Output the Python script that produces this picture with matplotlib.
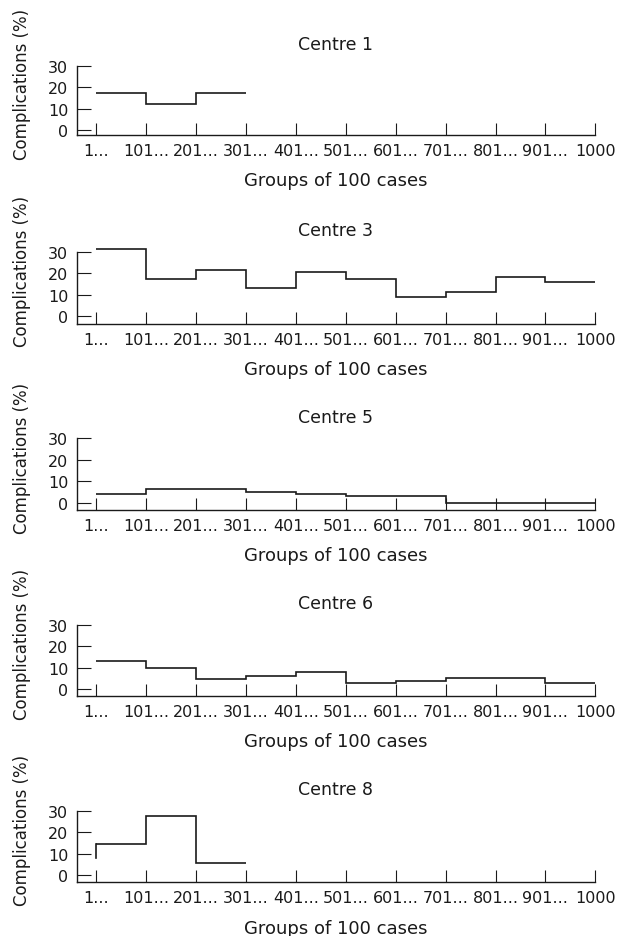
import matplotlib
matplotlib.use("Agg")
import matplotlib.pyplot as plt
import numpy as np

plt.rcParams['font.family'] = ['DejaVu Sans']

tick_labels = ["1...", "101...", "201...", "301...", "401...", "501...",
               "601...", "701...", "801...", "901...", "1000"]
centres = ["Centre 1", "Centre 3", "Centre 5", "Centre 6", "Centre 8"]
centre1 = [17.2, 12.0, 17.2]
centre3 = [31.2, 17.1, 21.4, 13.0, 20.4, 17.1, 9.1, 11.1, 18.1, 15.9]
centre5 = [4.1, 6.5, 6.5, 5.1, 3.9, 3.0, 3.0, 0.0, 0.0, 0.0]
centre6 = [12.9, 9.7, 4.8, 6.0, 7.8, 2.9, 3.8, 4.9, 4.9, 2.9]
centre8 = [14.7, 27.8, 5.8]
centre8_start = 7.8
series = [centre1, centre3, centre5, centre6, centre8]
yticks = [0, 10, 20, 30]

W, H = 617, 937
fig = plt.figure(figsize=(W / 100, H / 100), dpi=100)

# axes pixel boxes: (top, bottom)
boxes = [(66.7, 136), (252.7, 325), (439.3, 511), (626, 697), (812, 883.3)]
ybottoms = [-2.3, -3.6, -3.4, -3.4, -3.4]
left_px, right_px = 76.7, 595.3
ink = '#1a1a1a'

for i, (name, vals) in enumerate(zip(centres, series)):
    top, bot = boxes[i]
    ax = fig.add_axes([left_px / W, 1 - bot / H, (right_px - left_px) / W, (bot - top) / H])
    edges = np.arange(len(vals) + 1)
    ax.stairs(vals, edges, color=ink, lw=1.2, baseline=None, clip_on=False)
    if name == "Centre 8":
        ax.plot([edges[0], edges[0]], [centre8_start, vals[0]], color=ink, lw=1.2)
    ax.set_xlim(-0.393, 10)
    ax.set_ylim(ybottoms[i], 30)
    for s in ['top', 'right']:
        ax.spines[s].set_visible(False)
    for s in ['left', 'bottom']:
        ax.spines[s].set_linewidth(1.0)
        ax.spines[s].set_color(ink)
    ax.set_xticks(np.arange(len(tick_labels)))
    ax.set_xticklabels(tick_labels)
    ax.set_yticks(yticks)
    ax.tick_params(axis='x', direction='in', length=9, width=0.8, pad=5.5, labelsize=11.5, colors=ink)
    ax.tick_params(axis='y', direction='in', length=10, width=0.8, pad=6, labelsize=11.5, colors=ink)
    ax.set_title(name, fontsize=12.5, pad=12, color=ink)
    ax.annotate("Groups of 100 cases", xy=(0.5, 0), xycoords='axes fraction',
                xytext=(0, -45.5 * 0.72), textcoords='offset points',
                ha='center', va='center', fontsize=13, color=ink)
    yc = 1 - ((top + bot) / 2 - 17) / H
    fig.text(22.5 / W, yc, "Complications (%)", rotation=90, ha='center', va='center',
             fontsize=12, color=ink)

fig.savefig("out.png", dpi=100)
